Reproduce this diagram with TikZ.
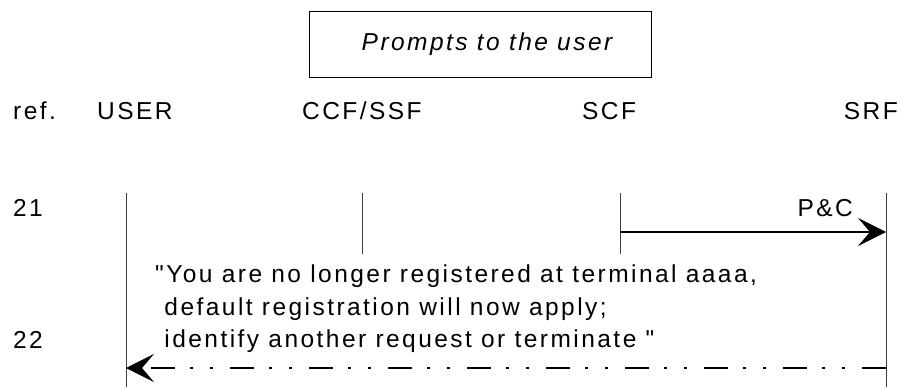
\documentclass[tikz,border=0pt]{standalone}
\usepackage{fontspec}
\newfontfamily\msgfont{Liberation Sans}[LetterSpace=10]
\usetikzlibrary{arrows.meta}

\tikzset{
  lbl/.style={inner sep=0pt, anchor=base west, font=\msgfont\fontsize{24.5}{32.5}\selectfont},
  life/.style={line width=0.9pt, draw=black!75},
  msg/.style={line width=1.1pt, -{Stealth[length=28pt,width=28pt,inset=12pt]}},
  tone/.style={msg, dash pattern=on 24pt off 17pt on 3pt off 17pt on 3pt off 15pt}
}

\begin{document}
\begin{tikzpicture}[x=1pt,y=-1pt]
    \useasboundingbox (0,0) rectangle (907,387);

    \node[draw, line width=0.8pt, minimum width=342pt, minimum height=66pt,
          font=\msgfont\itshape\fontsize{24.5}{28}\selectfont] (title) at (480,44) {\hspace*{14pt}Prompts to the user};

    \node[lbl] (ref) at (13,120) {ref.};
    \node[lbl] (user) at (97,120) {USER};
    \node[lbl] (ccf) at (302,120) {CCF/SSF};
    \node[lbl] (scf) at (582,120) {SCF};
    \node[lbl, anchor=base east] (srf) at (898,120) {SRF};
    \node[lbl] (r21) at (13,217) {21};
    \node[lbl] (r22) at (13,348) {22};

    \coordinate (U1) at (126,193); \coordinate (U2) at (126,387);
    \coordinate (C1) at (362,193); \coordinate (C2) at (362,254);
    \coordinate (S1) at (620,193); \coordinate (S2) at (620,254);
    \coordinate (R1) at (886,193); \coordinate (R2) at (886,387);
    \foreach \a/\b in {U1/U2,C1/C2,S1/S2,R1/R2} \draw[life] (\a) -- (\b);

    % 21
    \coordinate (m21a) at (620,232); \coordinate (m21b) at (886,232);
    \draw[msg] (m21a) -- (m21b);
    \node[lbl, anchor=base east] (pc) at (853,217) {P\&C};

    % 22
    \coordinate (m22a) at (886,368); \coordinate (m22b) at (126,368);
    \draw[tone] (m22a) -- (m22b);
    \node[lbl, anchor=north west, align=left] (prompt) at (155,265)
      {"You are no longer registered at terminal aaaa,\\
       \ default registration will now apply;\\
       \ identify another request or terminate "};

\end{tikzpicture}
\end{document}
